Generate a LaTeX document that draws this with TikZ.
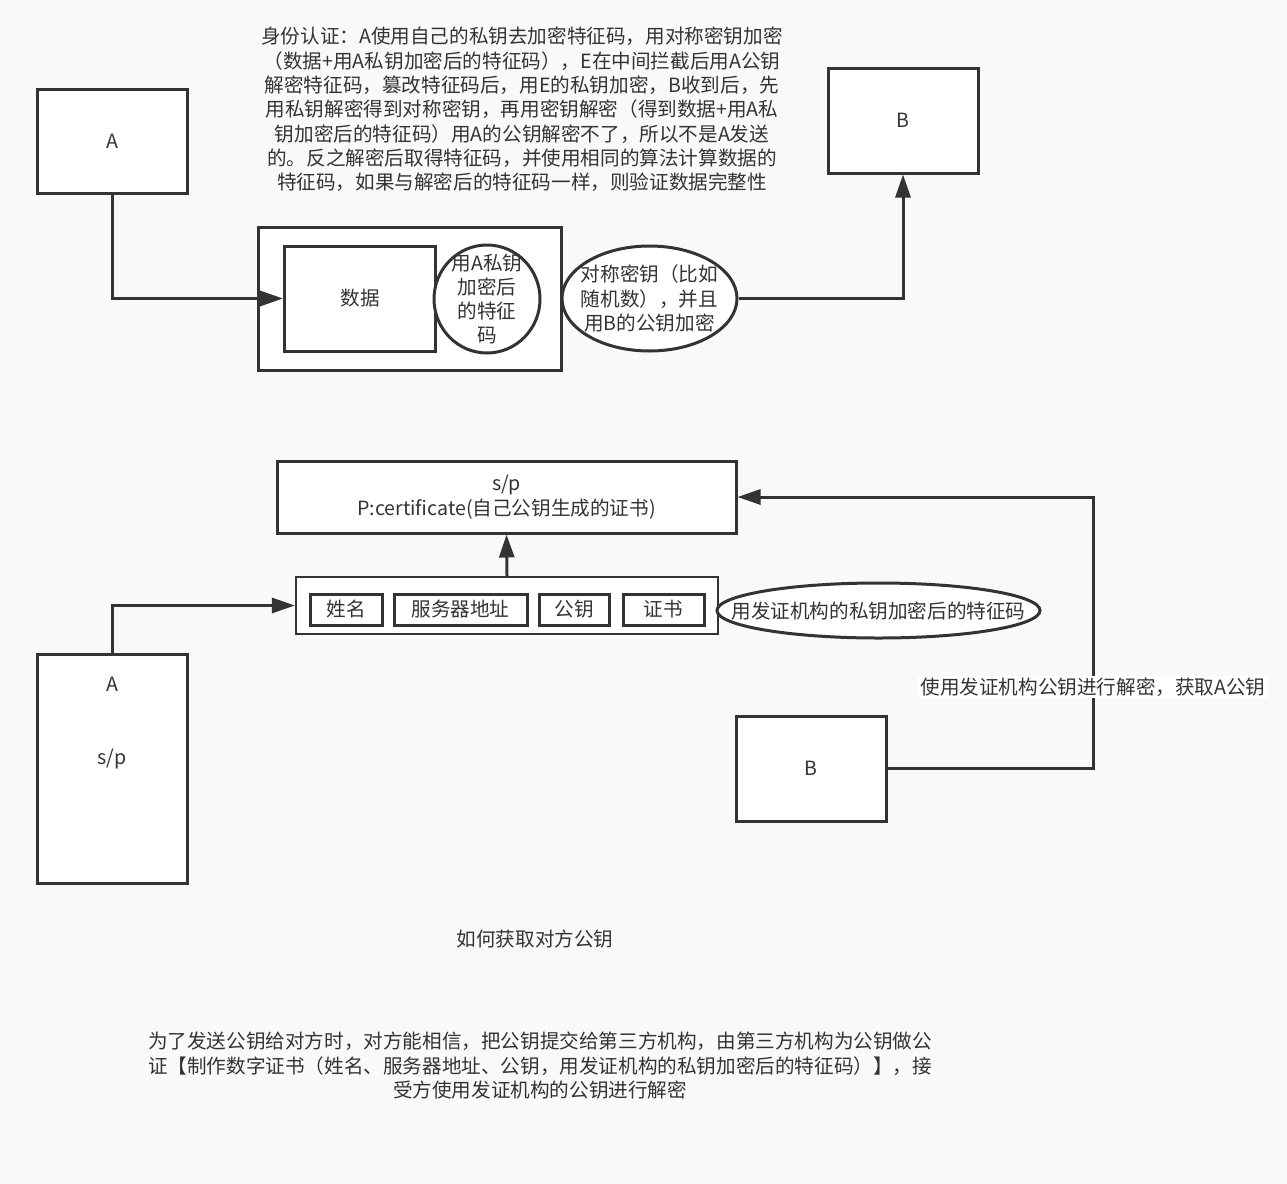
\documentclass[tikz,border=0pt]{standalone}
\usepackage{fontspec}
\setmainfont{Noto Sans CJK SC}
\usetikzlibrary{arrows.meta,shapes.geometric}
\definecolor{ink}{HTML}{333333}
\definecolor{bg}{HTML}{F9F9F9}
\begin{document}
\begin{tikzpicture}[x=1pt,y=-1pt,
  every node/.style={text=ink, font=\fontsize{19.6}{24.3}\selectfont},
  box/.style={draw=ink, line width=3pt, fill=white, inner sep=0pt, align=center},
  oval/.style={ellipse, draw=ink, line width=3pt, fill=white, inner sep=0pt},
  conn/.style={draw=ink, line width=3pt, -{Triangle[length=23pt,width=15pt]}},
  txt/.style={align=center, inner sep=0pt}]
\fill[bg] (0,0) rectangle (1287,1183);
\useasboundingbox (0,0) rectangle (1287,1183);

% ---------- top part ----------
\node[txt] (intro) at (522,109.5) {身份认证：A使用自己的私钥去加密特征码，用对称密钥加密\\
（数据+用A私钥加密后的特征码），E在中间拦截后用A公钥\\
解密特征码，篡改特征码后，用E的私钥加密，B收到后，先\\
用私钥解密得到对称密钥，再用密钥解密（得到数据+用A私\\
钥加密后的特征码）用A的公钥解密不了，所以不是A发送\\
的。反之解密后取得特征码，并使用相同的算法计算数据的\\
特征码，如果与解密后的特征码一样，则验证数据完整性};

\node[box, minimum width=150pt, minimum height=104pt] (A1) at (112,141) {A};
\node[box, minimum width=150pt, minimum height=105pt] (B1) at (903,120.5) {B};

\node[box, minimum width=303pt, minimum height=143pt] (pack) at (410,298.5) {};
\node[box, minimum width=151pt, minimum height=105pt] (data) at (360,298.5) {数据};
\node[oval, minimum width=106pt, minimum height=108pt,
      label={[txt]center:用A私钥\\加密后\\的特征\\码}] (sig) at (487,299) {};
\node[oval, minimum width=175pt, minimum height=105pt,
      label={[txt]center:对称密钥（比如\\随机数），并且\\用B的公钥加密}] (key) at (649.5,298.5) {};

\draw[conn] (A1.south) |- (data.west);
\draw[conn] (key.east) -| (B1.south);

% ---------- middle part ----------
\node[box, minimum width=459pt, minimum height=72pt] (cert) at (506.5,497) {s/p\\P:certificate(自己公钥生成的证书)};
\node[box, line width=2.2pt, minimum width=422pt, minimum height=57pt] (info) at (507,605.5) {};
\node[box, minimum width=72pt, minimum height=31pt] (f1) at (346.5,609.5) {姓名};
\node[box, minimum width=133pt, minimum height=31pt] (f2) at (460.5,609.5) {服务器地址};
\node[box, minimum width=70pt, minimum height=31pt] (f3) at (574,609.5) {公钥};
\node[box, minimum width=81pt, minimum height=31pt] (f4) at (663.5,609.5) {证书};
\node[oval, minimum width=323pt, minimum height=55pt,
      label={[txt]center:用发证机构的私钥加密后的特征码}] (sig2) at (878.5,610.5) {};

\node[box, minimum width=150pt, minimum height=229pt] (A2) at (112,768.5) {};
\node[txt] (A2t) at (112,723.5) {A\\ \\ \\s/p};
\node[box, minimum width=150pt, minimum height=105pt] (B2) at (811,768.5) {B};

\draw[conn] (info.north) -- (cert.south);
\draw[conn] (A2.north) |- (info.west);
\coordinate (bend) at (1093,768.5);
\draw[conn] (B2.east) -- (bend) |- (cert.east);
\node[fill=white, inner sep=2pt] (lbl) at (1093,687) {使用发证机构公钥进行解密，获取A公钥};

% ---------- bottom texts ----------
\node[txt] (title) at (535,939) {如何获取对方公钥};
\node[txt] (summary) at (540,1065.5) {为了发送公钥给对方时，对方能相信，把公钥提交给第三方机构，由第三方机构为公钥做公\\
证【制作数字证书（姓名、服务器地址、公钥，用发证机构的私钥加密后的特征码）】，接\\
受方使用发证机构的公钥进行解密};
\end{tikzpicture}
\end{document}
